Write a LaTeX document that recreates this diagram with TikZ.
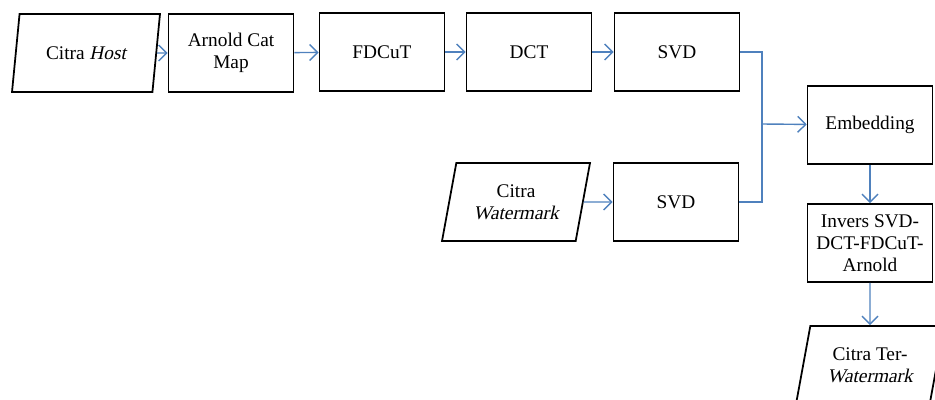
\documentclass[tikz,border=0pt]{standalone}
\usepackage{fontspec}
\setmainfont{Liberation Serif}[ItalicFont=Liberation Serif,ItalicFeatures={FakeSlant=0.22}]
\usetikzlibrary{arrows.meta,shapes.geometric}
\definecolor{linkblue}{HTML}{4F81BD}

\begin{document}
\begin{tikzpicture}[x=0.02cm,y=-0.02cm,
    box/.style={draw,line width=1pt,minimum width=2.5cm,minimum height=1.56cm,
      align=center,font=\fontsize{11}{12.5}\selectfont},
    data/.style={box,trapezium,trapezium left angle=73,trapezium right angle=107,
      trapezium stretches body,minimum width=2.96cm},
    wire/.style={draw=linkblue,line width=0.8pt},
    link/.style={wire,-{Straight Barb[length=1.6mm,width=3.2mm]}}]
    \useasboundingbox (0,0) rectangle (935,399);
    \clip (0,0) rectangle (935,399); % the last shape runs off the page

    % top row
    \node[data] (host)  at (86,53)  {Citra \textit{Host}};
    \node[box]  (acm)   at (231,53) {Arnold Cat\\Map};
    \node[box]  (fdcut) at (382,52) {FDCuT};
    \node[box]  (dct)   at (529,52) {DCT};
    \node[box]  (svda)  at (677,52) {SVD};

    % watermark row
    \node[data] (wm)    at (516,202) {Citra\\\textit{Watermark}};
    \node[box]  (svdb)  at (676,202) {SVD};

    % right column
    \node[box]  (embed)  at (870,125) {Embedding};
    \node[box]  (inv)    at (870,243) {Invers SVD-\\DCT-FDCuT-\\Arnold};
    \node[data] (marked) at (870,365) {Citra Ter-\\\textit{Watermark}};

    \coordinate (join) at (762,124);

    \foreach \a/\b in {host/acm,acm/fdcut,fdcut/dct,dct/svda,wm/svdb}{
      \draw[link] (\a) -- (\b);
    }
    \draw[wire] (svda.east) -| (join);
    \draw[wire] (svdb.east) -| (join);
    \draw[link] (join) -- (embed);
    \draw[link] (embed) -- (inv);
    \draw[link] (inv) -- (marked);
  \end{tikzpicture}
\end{document}
